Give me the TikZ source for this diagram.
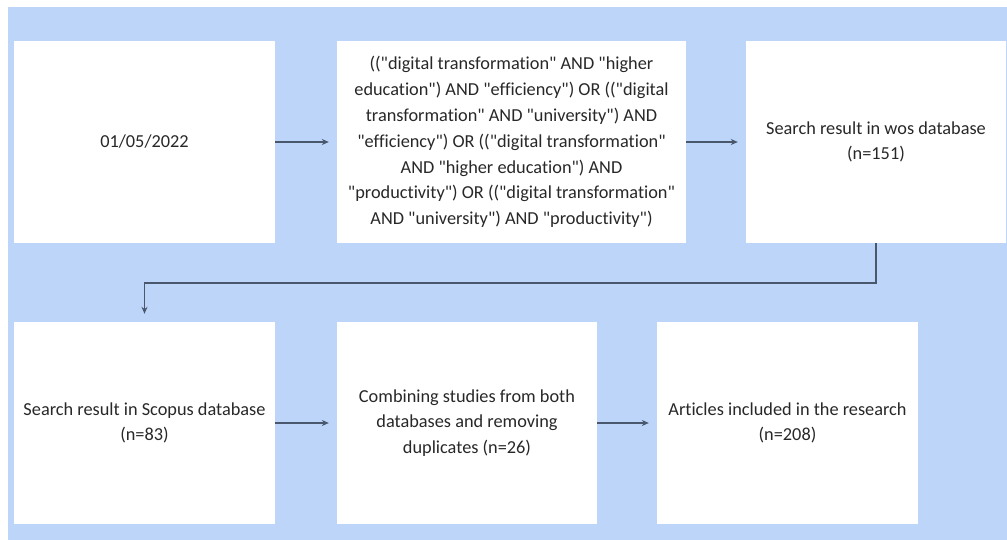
\documentclass[tikz,border=0pt]{standalone}
\usepackage{fontspec}
\setmainfont{Carlito}[Ligatures={TeXOff,NoCommon}]
\usetikzlibrary{arrows.meta}
\definecolor{panel}{RGB}{188,213,248}
\definecolor{link}{RGB}{74,88,110}
\definecolor{ink}{RGB}{40,40,40}
\begin{document}
\begin{tikzpicture}[x=1pt,y=-1pt,
  stepbox/.style={rectangle,fill=white,draw=none,minimum height=202pt,
    align=center,inner sep=0pt,text=ink,
    font=\fontsize{18.3}{25.8}\selectfont},
  arr/.style={draw=link,line width=1.1pt,
    -{Stealth[length=7pt,width=6pt]},shorten >=8pt}]
\useasboundingbox (0,0) rectangle (1007,540);
\fill[panel] (8,7) rectangle (1007,540);

\node[stepbox,minimum width=261pt] (date) at (144.5,142) {01/05/2022};
\node[stepbox,minimum width=349pt] (query) at (511.5,142)
  {(("digital transformation" AND "higher\\
   education") AND "efficiency") OR (("digital\\
   transformation" AND "university") AND\\
   "efficiency") OR (("digital transformation"\\
   AND "higher education") AND\\
   "productivity") OR (("digital transformation"\\
   AND "university") AND "productivity")};
\node[stepbox,minimum width=260pt] (wos) at (876,142)
  {Search result in wos database\\(n=151)};

\node[stepbox,minimum width=261pt] (scopus) at (144.5,423)
  {Search result in Scopus database\\(n=83)};
\node[stepbox,minimum width=260pt] (merge) at (467,423)
  {Combining studies from both\\databases and removing\\duplicates (n=26)};
\node[stepbox,minimum width=261pt] (final) at (787.5,423)
  {Articles included in the research\\(n=208)};

\coordinate (turn) at (876,283);
\draw[arr] (date.east) -- (query.west);
\draw[arr] (query.east) -- (wos.west);
\draw[arr] (wos.south) -- (turn) -| (scopus.north);
\draw[arr] (scopus.east) -- (merge.west);
\draw[arr] (merge.east) -- (final.west);
\end{tikzpicture}
\end{document}
